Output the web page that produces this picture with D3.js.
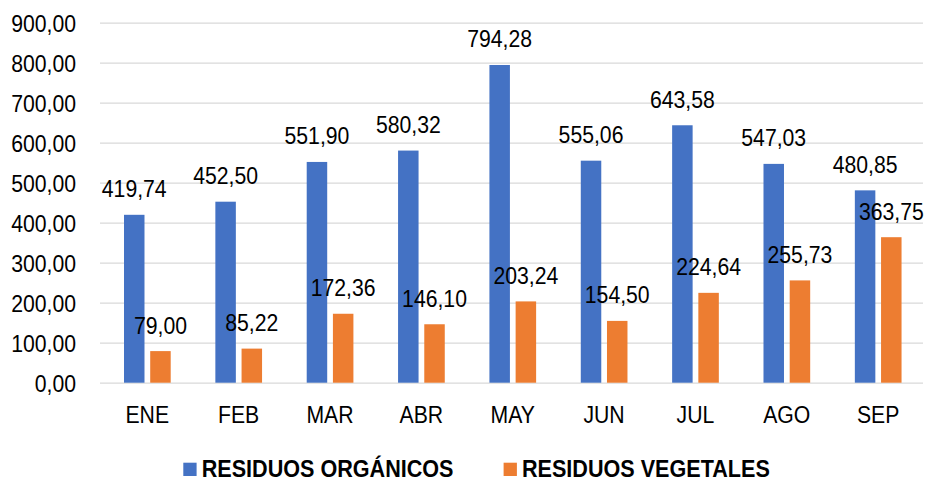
<!DOCTYPE html>
<html><head><meta charset="utf-8">
<script src="https://cdn.jsdelivr.net/npm/d3@7"></script>
<style>body{margin:0;background:#fff}svg{display:block}</style>
</head><body><svg id="c" width="926" height="481"></svg>
<script>
const months = ["ENE","FEB","MAR","ABR","MAY","JUN","JUL","AGO","SEP"];
const organicos = [419.74,452.50,551.90,580.32,794.28,555.06,643.58,547.03,480.85];
const vegetales = [79.00,85.22,172.36,146.10,203.24,154.50,224.64,255.73,363.75];
const seriesNames = ["RESIDUOS ORGÁNICOS","RESIDUOS VEGETALES"];
const seriesColors = ["#4472C4","#ED7D31"];
const yTicks = [0,100,200,300,400,500,600,700,800,900];

const FONT = "'Liberation Sans', Arial, sans-serif";
const FS = 21.2, SY = 1.13;
const svg = d3.select("#c");
const fmt = d3.formatLocale({decimal:",", thousands:".", grouping:[3], currency:["","€"]}).format(".2f");

const y = d3.scaleLinear().domain([0,900]).range([382.7,22.7]);
const x = d3.scaleBand().domain(months).range([101.6,923.8]).paddingInner(0).paddingOuter(0);
const xs = d3.scaleBand().domain([0,1]).range([22.4,69.1]).paddingInner(0.218).paddingOuter(0);

// grid + y axis
const gy = svg.append("g").attr("transform","translate(100,0)")
  .call(d3.axisLeft(y).tickValues(yTicks).tickSize(-823).tickPadding(24).tickFormat(fmt));
gy.select(".domain").remove();
gy.selectAll(".tick line").attr("stroke","#d9d9d9").attr("stroke-width",1.3);
gy.selectAll(".tick text").attr("font-family",FONT).attr("font-size",FS).attr("fill","#000")
  .attr("dy","0.38em").attr("transform",`scale(1,${SY})`);

// x axis labels
const gx = svg.append("g").attr("transform",`translate(0,${y(0)})`)
  .call(d3.axisBottom(x).tickSize(0));
gx.select(".domain").remove();
gx.selectAll(".tick text").attr("font-family",FONT).attr("font-size",FS).attr("fill","#000")
  .attr("y",40.6/SY).attr("dy",0).attr("transform",`scale(1,${SY})`);

const series = [organicos, vegetales];
series.forEach((vals, si) => {
  const g = svg.append("g");
  g.selectAll("rect").data(vals).join("rect")
    .attr("x",(d,i)=>x(months[i])+xs(si))
    .attr("y",d=>y(d))
    .attr("width",xs.bandwidth())
    .attr("height",d=>y(0)-y(d))
    .attr("fill",seriesColors[si]);
  g.selectAll("text").data(vals).join("text")
    .attr("transform",(d,i)=>`translate(${x(months[i])+xs(si)+xs.bandwidth()/2},${y(d)-17.5}) scale(1,${SY})`)
    .attr("text-anchor","middle").attr("font-family",FONT).attr("font-size",FS).attr("fill","#000")
    .text(d=>fmt(d));
});

// legend
const legendX = [183.3, 503.6];
const lg = svg.append("g");
seriesNames.forEach((n,i)=>{
  lg.append("rect").attr("x",legendX[i]).attr("y",462.7).attr("width",13.3).attr("height",13.3).attr("fill",seriesColors[i]);
  lg.append("text").attr("transform",`translate(${legendX[i]+18.4},476.7) scale(1,1.11)`)
    .attr("font-family",FONT).attr("font-weight","bold").attr("font-size",21.6).attr("fill","#000").text(n);
});
</script></body></html>
